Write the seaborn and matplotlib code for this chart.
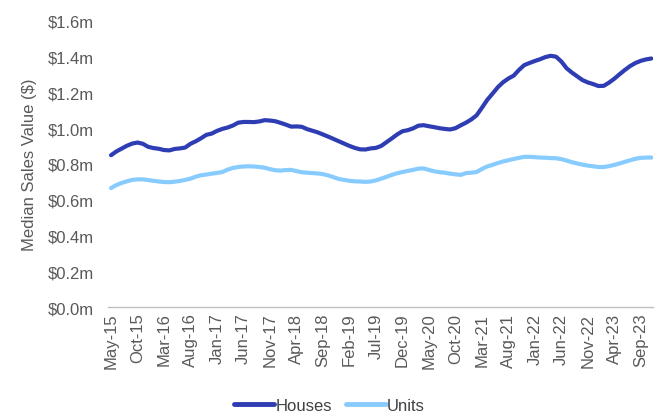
import numpy as np
import pandas as pd
import matplotlib
matplotlib.use("Agg")
import matplotlib.pyplot as plt
import seaborn as sns

# Monthly median sales values ($m), May-15 to Nov-23
houses = [
    0.849, 0.870, 0.886, 0.902, 0.914, 0.920, 0.913, 0.896, 0.889, 0.885,
    0.878, 0.876, 0.884, 0.887, 0.892, 0.913, 0.927, 0.944, 0.963, 0.970,
    0.985, 0.996, 1.004, 1.015, 1.031, 1.035, 1.035, 1.034, 1.038, 1.045,
    1.043, 1.039, 1.030, 1.020, 1.009, 1.010, 1.008, 0.995, 0.986, 0.977,
    0.965, 0.953, 0.940, 0.927, 0.914, 0.901, 0.890, 0.882, 0.881, 0.887,
    0.890, 0.901, 0.922, 0.943, 0.965, 0.983, 0.989, 0.999, 1.014, 1.017,
    1.011, 1.006, 1.000, 0.996, 0.993, 1.000, 1.016, 1.031, 1.049, 1.072,
    1.114, 1.158, 1.193, 1.229, 1.257, 1.278, 1.294, 1.326, 1.353, 1.365,
    1.376, 1.386, 1.398, 1.405, 1.400, 1.373, 1.335, 1.311, 1.290, 1.269,
    1.256, 1.247, 1.236, 1.237, 1.255, 1.277, 1.302, 1.326, 1.348, 1.365,
    1.377, 1.385, 1.390,
]
units = [
    0.665, 0.682, 0.694, 0.703, 0.711, 0.714, 0.714, 0.710, 0.706, 0.702,
    0.699, 0.698, 0.701, 0.705, 0.711, 0.718, 0.729, 0.737, 0.741, 0.746,
    0.750, 0.755, 0.768, 0.778, 0.783, 0.786, 0.787, 0.786, 0.783, 0.779,
    0.771, 0.765, 0.763, 0.766, 0.767, 0.760, 0.754, 0.751, 0.749, 0.747,
    0.743, 0.736, 0.726, 0.716, 0.711, 0.706, 0.703, 0.702, 0.700, 0.702,
    0.708, 0.718, 0.728, 0.739, 0.748, 0.755, 0.761, 0.767, 0.774, 0.775,
    0.767, 0.759, 0.754, 0.751, 0.746, 0.742, 0.739, 0.749, 0.751, 0.755,
    0.772, 0.786, 0.795, 0.805, 0.814, 0.821, 0.828, 0.834, 0.840, 0.840,
    0.838, 0.836, 0.835, 0.833, 0.832, 0.827, 0.819, 0.810, 0.803, 0.796,
    0.791, 0.787, 0.783, 0.783, 0.788, 0.795, 0.803, 0.812, 0.821, 0.829,
    0.834, 0.836, 0.836,
]
tick_labels = [
    "May-15", "Oct-15", "Mar-16", "Aug-16", "Jan-17", "Jun-17", "Nov-17",
    "Apr-18", "Sep-18", "Feb-19", "Jul-19", "Dec-19", "May-20", "Oct-20",
    "Mar-21", "Aug-21", "Jan-22", "Jun-22", "Nov-22", "Apr-23", "Sep-23",
]
y_ticks = [0.0, 0.2, 0.4, 0.6, 0.8, 1.0, 1.2, 1.4, 1.6]

# long-form frame for seaborn
period = np.arange(len(houses))
df = pd.DataFrame({
    "period": np.concatenate([period, period]),
    "value": houses + units,
    "type": ["Houses"] * len(houses) + ["Units"] * len(units),
})

sns.set_style("white")
plt.rcParams["font.family"] = ["Liberation Sans", "DejaVu Sans"]

fig = plt.figure(figsize=(6.59, 4.14), dpi=100)
ax = fig.add_axes([0.1639, 0.256, 0.827, 0.691])

sns.lineplot(
    data=df, x="period", y="value", hue="type",
    palette={"Houses": "#2E3DB3", "Units": "#88CCFF"},
    linewidth=3, ax=ax, legend=False,
)

ax.set_xlim(-0.57, 102.3)
ax.set_ylim(0, 1.6)
ax.set_yticks(y_ticks)
ax.set_yticklabels([f"${v:.1f}m" for v in y_ticks])
ax.set_xticks(np.arange(0, 5 * len(tick_labels), 5))
ax.set_xticklabels(tick_labels, rotation=90)
ax.tick_params(axis="both", length=0, labelsize=12, labelcolor="#595959")
ax.tick_params(axis="y", pad=10)
ax.tick_params(axis="x", pad=4)
ax.set_xlabel("")
ax.set_ylabel("Median Sales Value ($)", fontsize=12, color="#595959", labelpad=8)

for side in ["top", "right", "left"]:
    ax.spines[side].set_visible(False)
ax.spines["bottom"].set_color("#BFBFBF")
ax.spines["bottom"].set_linewidth(1)

handles = [
    plt.Line2D([], [], color="#2E3DB3", linewidth=3.5),
    plt.Line2D([], [], color="#88CCFF", linewidth=3.5),
]
fig.legend(
    handles, ["Houses", "Units"], loc="lower center", bbox_to_anchor=(0.5, -0.037),
    ncol=2, frameon=False, fontsize=12, handlelength=2.4, handletextpad=0.05,
    columnspacing=0.85, labelcolor="#404040",
)

fig.savefig("out.png", dpi=100)
